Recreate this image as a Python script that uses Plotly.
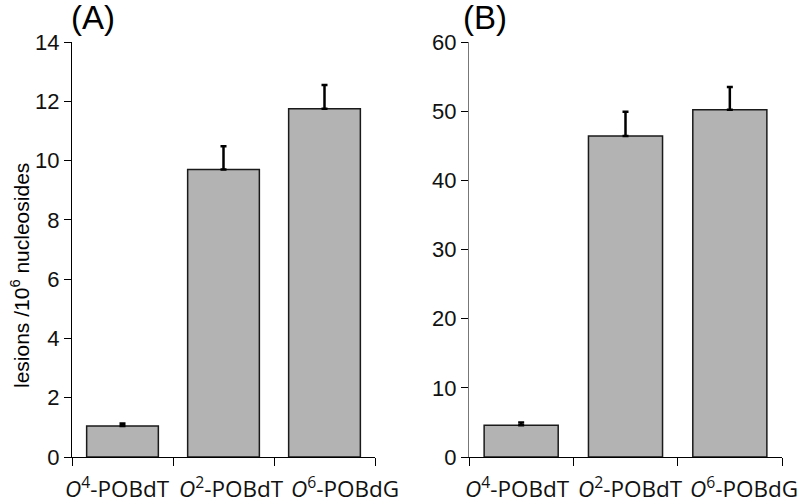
import plotly.graph_objects as go

categories = ["O4-POBdT", "O2-POBdT", "O6-POBdG"]
cat_labels = ["<i>O</i><sup>4</sup>-POBdT", "<i>O</i><sup>2</sup>-POBdT", "<i>O</i><sup>6</sup>-POBdG"]
values_a = [1.05, 9.70, 11.75]
errors_a = [0.08, 0.78, 0.80]
values_b = [4.6, 46.4, 50.2]
errors_b = [0.4, 3.5, 3.3]
yticks_a = [0, 2, 4, 6, 8, 10, 12, 14]
yticks_b = [0, 10, 20, 30, 40, 50, 60]

bar_style = dict(marker=dict(color="#b3b3b3", line=dict(color="#1a1a1a", width=1.5)))

fig = go.Figure()
fig.add_trace(go.Bar(x=categories, y=values_a, xaxis="x", yaxis="y",
                     error_y=dict(type="data", array=errors_a, arrayminus=[0, 0, 0], symmetric=False,
                                  color="black", thickness=2.5, width=3),
                     showlegend=False, **bar_style))
fig.add_trace(go.Bar(x=categories, y=values_b, xaxis="x2", yaxis="y2",
                     error_y=dict(type="data", array=errors_b, arrayminus=[0, 0, 0], symmetric=False,
                                  color="black", thickness=2.5, width=3),
                     showlegend=False, **bar_style))

W, H = 800, 501
ydom = [(501 - 457) / H, (501 - 42) / H]
tickfont = dict(family="Liberation Sans, Arial", size=22, color="#111")
catfont = dict(family="Open Sans, Noto Sans", size=22.5, color="#111")

xcommon = dict(type="category", range=[-0.5, 2.5], showline=True, linecolor="black", linewidth=1,
               ticks="outside", tickson="boundaries", ticklen=8, tickcolor="black",
               showticklabels=False, automargin=False, showgrid=False, zeroline=False)
ycommon = dict(showline=True, linewidth=1.2, ticks="outside", ticklen=7, tickcolor="black",
               tickfont=tickfont, automargin=False, showgrid=False, zeroline=False, domain=ydom)

# category labels (spread slightly wider than the bands, as in the reference)
label_shifts = {"x": [-5, 8, 20], "x2": [-4, 5, 14]}
annotations = []
for xref in ["x", "x2"]:
    for cat, lab, dx in zip(categories, cat_labels, label_shifts[xref]):
        annotations.append(dict(text=lab, x=cat, xref=xref, y=(501 - 487) / H, yref="paper",
                                xanchor="center", yanchor="middle", xshift=dx, showarrow=False,
                                borderpad=0, font=catfont))

annotations += [
    dict(text="(A)", x=93 / W, y=(501 - 17) / H, xref="paper", yref="paper", xanchor="center", yanchor="middle",
         showarrow=False, font=dict(family="Liberation Sans, Arial", size=33, color="black")),
    dict(text="(B)", x=485 / W, y=(501 - 17) / H, xref="paper", yref="paper", xanchor="center", yanchor="middle",
         showarrow=False, font=dict(family="Liberation Sans, Arial", size=33, color="black")),
    dict(text="lesions /10<sup>6</sup> nucleosides", x=20 / W, y=(501 - 276) / H,
         xref="paper", yref="paper", xanchor="center", yanchor="middle", textangle=-90,
         showarrow=False, font=dict(family="Liberation Sans, Arial", size=21, color="black")),
]

fig.update_layout(
    width=W, height=H,
    margin=dict(l=0, r=0, t=0, b=0),
    paper_bgcolor="white", plot_bgcolor="white",
    bargap=0.29,
    xaxis=dict(domain=[72 / W, 375 / W], anchor="y", **xcommon),
    xaxis2=dict(domain=[469 / W, 782 / W], anchor="y2", **xcommon),
    yaxis=dict(range=[0, 14], tickvals=yticks_a, anchor="x", linecolor="black", **ycommon),
    yaxis2=dict(range=[0, 60], tickvals=yticks_b, anchor="x2", linecolor="#777", **ycommon),
    annotations=annotations,
)

fig.write_html("out.html", config={"displayModeBar": False},
               post_script="document.body.style.margin='0';document.body.style.overflow='hidden';")
